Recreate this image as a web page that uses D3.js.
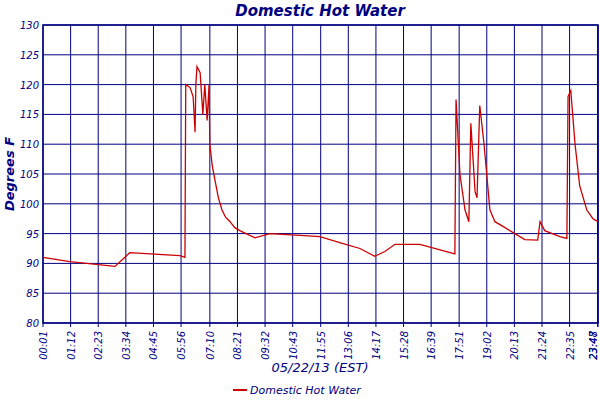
<!DOCTYPE html>
<html>
<head>
<meta charset="utf-8">
<script src="https://d3js.org/d3.v7.min.js"></script>
<style>body{margin:0;background:#fff}text{font-family:"DejaVu Sans",sans-serif;fill:#000080}</style>
</head>
<body>
<div id="chart"></div>
<script>
// minutes after midnight, temperature (F)
const minutes = [1,70,186,211,224,353,366,368,379,387,392,394,397,405,412,417,423,428,430,436,443,452,461,470,482,494,507,546,584,662,713,764,816,854,880,906,970,1060,1063,1073,1086,1096,1101,1112,1117,1124,1135,1150,1163,1189,1214,1240,1273,1279,1291,1330,1348,1351,1358,1369,1381,1399,1415,1428];
const temps = [91,90.3,89.5,91,91.8,91.3,91,120,119.5,118,112,120,123,122,115,120,114,120,110,106.5,104,101,99,97.8,97,96,95.5,94.3,95,94.7,94.5,93.5,92.5,91.2,92,93.2,93.2,91.6,117.5,105,99,97,113.5,102,101,116.5,110,99,97,96,95,94,93.9,97,95.5,94.5,94.2,118,119,110,103,99,97.5,97];
const tickLabels = ["00:01","01:12","02:23","03:34","04:45","05:56","07:10","08:21","09:32","10:43","11:55","13:06","14:17","15:28","16:39","17:51","19:02","20:13","21:24","22:35","23:47","23:48"];
const yTicks = d3.range(80, 131, 5);
const title = "Domestic Hot Water";

const W = 600, H = 400, m = {top: 25, right: 2, bottom: 77, left: 43};
const svg = d3.select("#chart").append("svg").attr("width", W).attr("height", H);
const x = d3.scaleLinear().domain([1, 1428]).range([m.left, W - m.right]);
const y = d3.scaleLinear().domain([80, 130]).range([H - m.bottom, m.top]);
const navy = "#000080";
const toMin = s => +s.slice(0, 2) * 60 + +s.slice(3);

svg.append("text").attr("x", 320).attr("y", 16).attr("text-anchor", "middle")
    .style("font-size", "15px").style("font-weight", "bold").style("font-style", "italic").text(title);

svg.append("g").selectAll("line").data(yTicks).join("line")
    .attr("x1", m.left).attr("x2", W - m.right).attr("y1", d => y(d)).attr("y2", d => y(d))
    .attr("stroke", navy);
svg.append("g").selectAll("line").data(tickLabels).join("line")
    .attr("y1", m.top).attr("y2", H - m.bottom + 4).attr("x1", d => x(toMin(d))).attr("x2", d => x(toMin(d)))
    .attr("stroke", navy);
svg.append("rect").attr("x", m.left).attr("y", m.top).attr("width", W - m.left - m.right)
    .attr("height", H - m.top - m.bottom).attr("fill", "none").attr("stroke", navy).attr("stroke-width", 1.5);

svg.append("g").selectAll("text").data(yTicks).join("text")
    .attr("x", m.left - 4).attr("y", d => y(d) + 4).attr("text-anchor", "end")
    .style("font-size", "10px").style("font-style", "italic").text(d => d);
svg.append("g").selectAll("text").data(tickLabels).join("text")
    .attr("transform", d => `translate(${Math.min(x(toMin(d)) + 4, 597)},${H - m.bottom + 8}) rotate(-90)`)
    .attr("text-anchor", "end").style("font-size", "10px").style("font-style", "italic").text(d => d);

svg.append("text").attr("transform", `translate(14,${(m.top + H - m.bottom) / 2}) rotate(-90)`)
    .attr("text-anchor", "middle").style("font-size", "13px").style("font-weight", "bold")
    .style("font-style", "italic").text("Degrees F");
svg.append("text").attr("x", 320).attr("y", 372).attr("text-anchor", "middle")
    .style("font-size", "13px").style("font-style", "italic").text("05/22/13 (EST)");

const data = minutes.map((t, i) => ({t, v: temps[i]}));
svg.append("path").datum(data).attr("fill", "none").attr("stroke", "#cc0000").attr("stroke-width", 1.3)
    .attr("d", d3.line().x(d => x(d.t)).y(d => y(d.v)));

svg.append("line").attr("x1", 233).attr("x2", 247).attr("y1", 390).attr("y2", 390)
    .attr("stroke", "#cc0000").attr("stroke-width", 2);
svg.append("text").attr("x", 250).attr("y", 394).style("font-size", "11px").style("font-style", "italic").text(title);
</script>
</body>
</html>
